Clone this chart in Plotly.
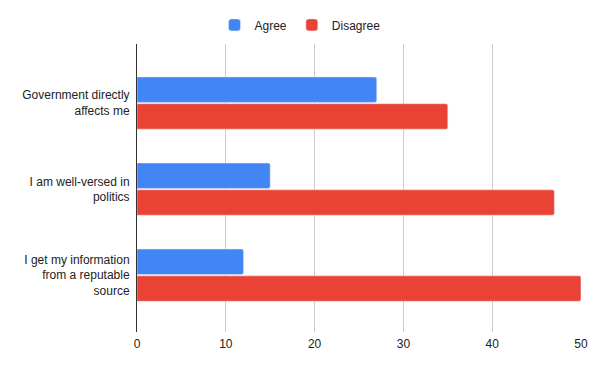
import plotly.graph_objects as go

categories = ["Government directly<br>affects me", "I am well-versed in<br>politics", "I get my information<br>from a reputable<br>source"]
agree = [27, 15, 12]
disagree = [35, 47, 50]
x_ticks = [0, 10, 20, 30, 40, 50]

fig = go.Figure()
fig.add_trace(go.Bar(name="Agree", y=categories, x=agree, orientation="h", marker_color="#4285F4"))
fig.add_trace(go.Bar(name="Disagree", y=categories, x=disagree, orientation="h", marker_color="#EA4335"))

fig.update_layout(
    width=600, height=371,
    margin=dict(l=137, r=19, t=44, b=39, autoexpand=False),
    paper_bgcolor="white", plot_bgcolor="white",
    font=dict(family="Arial, Liberation Sans, sans-serif", size=12, color="#222222"),
    barmode="group", bargap=0.378, bargroupgap=0.05,
    barcornerradius=2,
    legend=dict(orientation="h", x=0.5, xanchor="center", xref="container",
                y=0.972, yanchor="top", yref="container", font=dict(size=12, color="#222222"),
                traceorder="normal"),
    xaxis=dict(range=[0, 50], tickvals=x_ticks, showgrid=True, gridcolor="#cccccc",
               zeroline=False, showline=False, ticks="", tickfont=dict(size=12),
               automargin=False, ticklabelstandoff=3),
    yaxis=dict(type="category", range=[2.66, -0.686], showline=True, linecolor="#333333",
               linewidth=1, ticks="", showgrid=False, tickfont=dict(size=12),
               automargin=False, ticklabelstandoff=4),
)

fig.write_html("out.html", config={"displayModeBar": False},
               post_script="document.body.style.margin='0';document.body.style.overflow='hidden';")
